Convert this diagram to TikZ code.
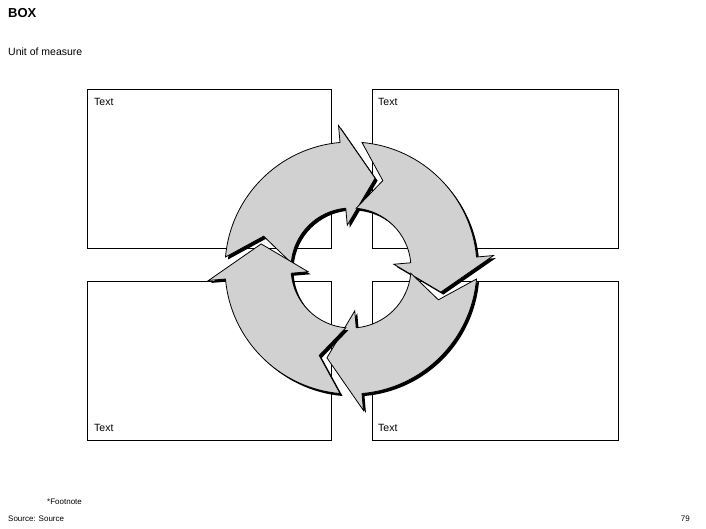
\documentclass[tikz,border=0pt]{standalone}
\usepackage{fontspec}
\setmainfont{Liberation Sans}
\begin{document}
\begin{tikzpicture}[x=1pt,y=1pt,
  panel/.style={draw,line width=0.6pt,minimum width=244pt,minimum height=159pt,anchor=north west,inner sep=0},
  lbl/.style={anchor=west,inner sep=0,font=\fontsize{10.5}{12}\selectfont},
  small/.style={anchor=west,inner sep=0,font=\fontsize{8}{10}\selectfont}]
\useasboundingbox (0,0) rectangle (706,-529);
\node[panel] (b1) at (87,-89) {};
\node[panel,minimum width=246pt] (b2) at (372,-89) {};
\node[panel] (b3) at (87,-281) {};
\node[panel,minimum width=246pt] (b4) at (372,-281) {};
\node[lbl] (t1) at (94,-102) {Text};
\node[lbl] (t2) at (378,-102) {Text};
\node[lbl] (t3) at (94,-428) {Text};
\node[lbl] (t4) at (378,-428) {Text};
\node[anchor=west,inner sep=0,font=\bfseries\fontsize{13}{15}\selectfont] (title) at (8,-13) {BOX};
\node[lbl] (unit) at (8,-52) {Unit of measure};
\node[small] (fn) at (47,-502) {*Footnote};
\node[small] (src) at (8,-519) {Source: Source};
\node[small,anchor=east] (pg) at (690,-519) {79};
\begin{scope}[shift={(351,-268)}]
\foreach \a in {175,85,-5,-95}{
  \pgfmathsetmacro{\b}{\a-80}
  \pgfmathsetmacro{\t}{\a-100}
  \pgfmathsetmacro{\n}{\a-15}
  \def\arrowpath{(\a:126) arc[start angle=\a,end angle=\b,radius=126] -- (\b:143) -- (\t:93) -- (\b:43) -- (\b:60) arc[start angle=\b,end angle=\a,radius=60] -- (\n:93) -- cycle}
  \fill[black,shift={(2.5,-2.5)}] \arrowpath;
  \filldraw[fill=black!18,draw=black,line width=0.8pt] \arrowpath;
}
\end{scope}
\end{tikzpicture}
\end{document}
